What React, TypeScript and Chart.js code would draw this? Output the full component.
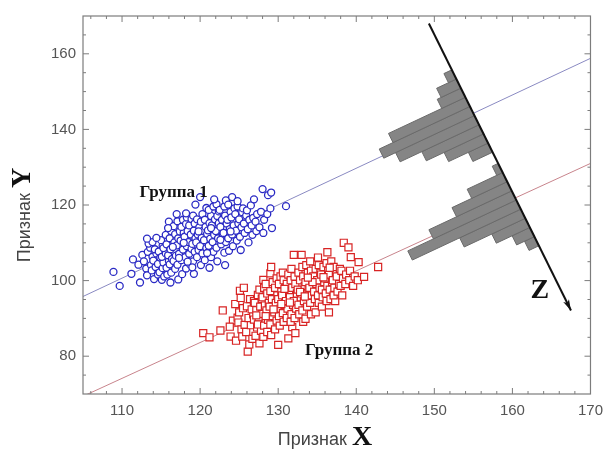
import React, { useEffect, useRef } from 'react';
import { Chart, registerables } from 'chart.js';

Chart.register(...registerables);

// ---------- data ----------
const xRange = [105, 170];
const yRange = [70, 170];
const xTickValues = [110, 120, 130, 140, 150, 160, 170];
const yTickValues = [80, 100, 120, 140, 160];
const xMinorStep = 2;
const yMinorStep = 5;

const group1: number[][] = [
  [108.9, 102.3], [109.7, 98.6], [111.2, 101.8], [111.4, 105.6], [112.3, 99.5], [112.1, 104.2], [112.6, 106.8],
  [113.1, 103.2], [112.8, 105.1], [113.3, 107.6], [113.6, 108.7], [113.2, 101.4],
  [113.7, 104.1], [113.9, 106.3], [113.4, 109.8], [113.8, 102.7],
  [114.1, 100.4], [114.3, 103.6], [114.0, 105.3], [114.4, 107.2], [114.2, 108.3], [113.9, 110.2], [114.6, 101.6],
  [114.8, 102.2], [114.6, 104.4], [114.9, 106.1], [114.7, 107.7], [115.2, 109.2],
  [115.1, 100.2], [115.4, 101.1], [115.2, 103.3], [115.3, 104.8], [115.1, 106.3], [115.6, 107.2], [115.3, 108.6], [115.0, 110.7],
  [115.8, 101.6], [115.7, 103.4], [116.0, 105.2], [115.9, 106.7], [115.7, 109.6], [115.6, 112.1],
  [116.2, 99.5], [116.3, 102.1], [116.1, 104.3], [116.4, 105.7], [116.2, 108.3], [116.1, 111.2], [116.3, 113.1], [116.0, 115.6],
  [116.8, 103.1], [116.6, 105.2], [116.9, 106.6], [116.7, 110.1], [116.8, 112.3], [116.6, 114.4],
  [117.2, 100.3], [117.1, 104.2], [117.3, 107.1], [117.0, 109.3], [117.2, 111.2], [117.4, 113.0], [117.1, 115.7],
  [117.7, 101.7], [117.6, 105.4], [117.8, 108.2], [117.5, 110.6], [117.9, 112.6], [117.6, 114.2], [117.8, 116.1],
  [118.2, 103.2], [118.1, 106.2], [118.3, 109.1], [118.0, 111.6], [118.4, 113.1], [118.2, 115.0], [118.3, 116.7],
  [118.7, 104.3], [118.6, 107.1], [118.9, 108.4], [118.5, 110.2], [118.8, 112.2], [118.6, 114.6], [118.9, 116.3],
  [119.2, 101.8], [119.1, 105.1], [119.3, 107.6], [119.0, 109.7], [119.4, 111.2], [119.2, 113.2], [119.3, 115.1], [119.1, 117.2],
  [119.6, 106.2], [119.8, 108.1], [119.5, 110.1], [119.7, 112.2], [119.9, 114.1], [119.6, 116.2], [119.4, 120.1],
  [120.1, 104.1], [120.3, 107.2], [120.0, 109.1], [120.2, 111.3], [120.4, 113.2], [120.1, 115.6], [120.3, 117.6], [120.0, 122.1],
  [120.6, 105.4], [120.8, 108.6], [120.5, 110.7], [120.9, 112.4], [120.7, 114.2], [120.6, 116.1], [120.8, 119.2],
  [121.2, 103.4], [121.4, 106.2], [121.1, 109.2], [121.3, 111.1], [121.0, 113.3], [121.2, 115.2], [121.4, 117.1], [121.1, 118.7],
  [121.7, 107.6], [121.6, 110.2], [121.8, 112.1], [121.5, 114.6], [121.9, 116.2], [121.7, 119.6],
  [122.2, 105.1], [122.1, 108.7], [122.3, 111.2], [122.0, 113.1], [122.4, 115.2], [122.2, 117.1], [122.1, 120.2], [122.4, 118.3],
  [122.7, 109.6], [122.9, 112.1], [122.6, 114.2], [122.8, 116.1], [122.5, 118.7],
  [123.2, 104.1], [123.1, 107.4], [123.3, 110.2], [123.0, 112.6], [123.4, 115.1], [123.2, 117.2], [123.1, 119.6], [123.3, 121.2],
  [123.7, 107.9], [123.6, 111.2], [123.8, 113.6], [123.5, 116.1], [123.9, 118.2], [123.6, 120.1],
  [124.2, 109.1], [124.1, 112.2], [124.3, 114.6], [124.0, 116.7], [124.4, 119.1], [124.1, 122.1],
  [124.7, 110.6], [124.6, 113.2], [124.9, 115.1], [124.5, 117.6], [124.8, 119.6],
  [125.2, 108.1], [125.1, 111.6], [125.3, 114.1], [125.0, 116.2], [125.4, 118.1],
  [125.7, 112.6], [125.6, 115.1], [125.9, 117.2], [125.5, 119.1],
  [126.2, 110.1], [126.1, 113.6], [126.3, 116.1], [126.0, 118.6],
  [126.7, 112.1], [126.6, 114.6], [126.5, 119.9], [126.8, 116.6],
  [127.2, 113.1], [127.1, 115.6], [127.3, 117.6],
  [127.6, 114.1], [127.8, 118.2],
  [128.0, 124.2], [128.2, 116.1], [128.1, 112.6],
  [128.6, 117.6], [128.7, 122.6],
  [129.2, 113.9], [129.1, 123.3], [129.0, 119.1],
  [131.0, 119.7],
  [116.5, 108.9], [117.3, 106.0], [118.4, 105.0], [119.0, 103.5], [117.9, 110.0], [119.8, 113.0],
  [121.4, 113.9], [122.6, 110.8], [120.9, 107.3], [123.9, 113.0], [118.2, 117.8], [115.9, 113.9],
  [114.4, 111.3], [124.8, 121.0], [126.9, 121.5], [121.8, 121.5], [117.0, 117.6], [113.2, 111.1],
];

const group2: number[][] = [
  [120.4, 86.1], [121.2, 85.0], [122.6, 86.8], [122.9, 92.1],
  [123.9, 85.2], [124.2, 89.4], [123.8, 87.8],
  [124.6, 84.1], [124.5, 93.8], [124.8, 90.2],
  [125.1, 97.3], [125.2, 95.4], [124.9, 88.9], [125.3, 87.1], [125.0, 91.6],
  [125.6, 98.1], [125.4, 85.2], [125.7, 88.3], [125.5, 92.7],
  [126.1, 81.2], [126.3, 83.1], [125.9, 86.4], [126.2, 90.1], [126.0, 93.2], [126.4, 95.1],
  [126.7, 84.6], [126.5, 88.2], [126.8, 91.1], [126.6, 92.4], [126.9, 94.6],
  [127.1, 85.4], [127.3, 87.6], [126.9, 89.7], [127.2, 92.2], [127.0, 94.1], [127.4, 96.2],
  [127.6, 83.4], [127.8, 86.7], [127.5, 90.2], [127.7, 93.1], [127.9, 95.2], [127.6, 97.6], [127.4, 88.4],
  [128.1, 85.1], [128.2, 88.1], [127.9, 91.2], [128.3, 93.4], [128.0, 95.6], [128.2, 98.1], [128.1, 100.2],
  [128.6, 86.4], [128.7, 89.6], [128.5, 92.1], [128.8, 94.1], [128.6, 96.6], [128.4, 99.1],
  [129.1, 85.6], [129.0, 88.4], [129.3, 90.6], [128.9, 93.1], [129.2, 95.1], [129.0, 97.2], [129.3, 99.6], [129.0, 101.9], [129.1, 103.6],
  [129.6, 87.1], [129.8, 89.4], [129.5, 91.6], [129.7, 94.1], [129.9, 96.1], [129.6, 98.1], [129.8, 100.6],
  [130.0, 83.0], [130.2, 88.1], [130.1, 90.6], [130.3, 92.6], [130.0, 95.1], [130.4, 97.1], [130.1, 99.1], [130.3, 101.1],
  [130.7, 89.1], [130.6, 91.4], [130.8, 93.6], [130.5, 96.1], [130.9, 98.1], [130.7, 100.1], [130.6, 102.1],
  [131.3, 84.7], [131.8, 87.7], [131.1, 90.1], [131.2, 92.6], [131.0, 94.6], [131.4, 97.1], [131.1, 99.1], [131.3, 101.6],
  [131.6, 89.1], [131.7, 91.1], [131.9, 93.6], [131.5, 95.6], [131.8, 98.1], [131.6, 100.1], [131.7, 103.1],
  [132.2, 86.1], [132.1, 90.1], [132.3, 92.6], [132.0, 94.6], [132.4, 96.6], [132.2, 99.1], [132.1, 101.1], [132.0, 106.8],
  [132.7, 91.1], [132.6, 93.6], [132.9, 95.6], [132.5, 97.6], [132.8, 100.1], [132.6, 102.1],
  [133.2, 89.1], [133.1, 92.1], [133.3, 94.6], [133.0, 96.6], [133.4, 98.6], [133.2, 101.1], [133.1, 103.6], [133.0, 106.8],
  [133.5, 89.9], [133.7, 93.1], [133.6, 95.6], [133.9, 97.6], [133.5, 99.6], [133.8, 102.1], [133.6, 104.1],
  [134.2, 91.1], [134.1, 94.1], [134.3, 96.1], [134.0, 98.1], [134.4, 100.1], [134.2, 102.6], [134.1, 105.1],
  [134.8, 91.6], [134.7, 95.1], [134.6, 97.1], [134.9, 99.1], [134.5, 101.1], [134.8, 103.1],
  [135.2, 94.1], [135.1, 96.1], [135.3, 98.1], [135.0, 100.1], [135.4, 102.1], [135.2, 104.1], [135.1, 106.1], [135.6, 93.1],
  [135.7, 95.6], [135.6, 97.6], [135.9, 99.6], [135.5, 101.6], [135.8, 103.6],
  [136.2, 94.6], [136.1, 96.6], [136.3, 98.6], [136.0, 100.6], [136.4, 102.6], [136.2, 104.6], [136.3, 107.5],
  [136.5, 91.6], [136.7, 95.1], [136.6, 97.6], [136.9, 99.6], [136.5, 101.6], [136.8, 105.1],
  [137.3, 94.6], [137.1, 96.1], [137.2, 98.1], [137.0, 100.1], [137.4, 102.1], [137.1, 103.6],
  [137.6, 97.1], [137.8, 99.1], [137.5, 101.1], [137.9, 103.1],
  [138.2, 96.1], [138.0, 98.6], [138.3, 100.6], [138.1, 102.6],
  [138.6, 99.1], [138.7, 101.6], [138.4, 110.0],
  [139.1, 100.1], [139.2, 102.6], [139.0, 108.8], [139.3, 106.2],
  [139.6, 98.6], [139.8, 101.1],
  [140.3, 104.9], [140.2, 100.1], [141.0, 101.0], [142.8, 103.6],
  [130.4, 93.8], [131.5, 94.2], [132.8, 97.0], [133.4, 95.8], [134.4, 99.6], [135.8, 100.9],
  [129.4, 92.4], [128.4, 90.6], [136.6, 103.4], [133.8, 100.8], [130.8, 97.8], [127.2, 90.8],
];

const line1: number[][] = [[105, 95.8], [170, 158.8]];
const line2: number[][] = [[105, 69.4], [170, 131]];

// Z axis (data coordinates of its start and arrow tip)
const zAxis: number[][] = [[149.3, 168], [167.5, 92.1]];

// histograms projected on Z: bin start (fraction along Z), bin width, counts
const hist1Start = 0.1614;
const hist2Start = 0.4874;
const histBinWidth = 0.0319;
const hist1Counts = [4, 10, 12, 39, 46, 40, 29, 20, 10];
const hist2Counts = [3, 18, 28, 42, 55, 31, 17, 9, 5];
const histUnit = 0.2526; // x-units of bar length per count

const labels = [
  { text: 'Группа 1', x: 116.6, y: 123.3, font: 'bold 17px "Liberation Serif", "Times New Roman", serif' },
  { text: 'Группа 2', x: 137.8, y: 81.6, font: 'bold 17px "Liberation Serif", "Times New Roman", serif' },
  { text: 'Z', x: 163.5, y: 97.4, font: 'bold 28px "Liberation Serif", "Times New Roman", serif' },
];

// ---------- helpers ----------
const lineSlope = (line1[1][1] - line1[0][1]) / (line1[1][0] - line1[0][0]);

function barPolygon(t0: number, t1: number, len: number) {
  const [ax, ay] = zAxis[0];
  const [bx, by] = zAxis[1];
  const p0x = ax + (bx - ax) * t0, p0y = ay + (by - ay) * t0;
  const p1x = ax + (bx - ax) * t1, p1y = ay + (by - ay) * t1;
  const dx = -len, dy = -len * lineSlope;
  return [
    { x: p0x, y: p0y }, { x: p1x, y: p1y },
    { x: p1x + dx, y: p1y + dy }, { x: p0x + dx, y: p0y + dy },
    { x: p0x, y: p0y },
  ];
}

function histDatasets(start: number, counts: number[]) {
  return counts.map((c, i) => ({
    type: 'line' as const,
    data: barPolygon(start + i * histBinWidth, start + (i + 1) * histBinWidth, c * histUnit),
    borderColor: '#6a6a6a',
    borderWidth: 1,
    backgroundColor: '#858585',
    fill: 'shape',
    pointRadius: 0,
    tension: 0,
    order: 3,
  }));
}

const toPts = (arr: number[][]) => arr.map(([x, y]) => ({ x, y }));

const decorPlugin = {
  id: 'decor',
  afterDraw(chart: any) {
    const { ctx, chartArea: ca, scales } = chart;
    const xs = scales.x, ys = scales.y;
    ctx.save();
    // frame
    ctx.strokeStyle = '#7c7c7c';
    ctx.lineWidth = 1.2;
    ctx.strokeRect(ca.left, ca.top, ca.right - ca.left, ca.bottom - ca.top);
    // frame ticks (inward)
    ctx.lineWidth = 1;
    ctx.beginPath();
    for (let v = Math.ceil(xRange[0] / xMinorStep) * xMinorStep; v < xRange[1]; v += xMinorStep) {
      const px = xs.getPixelForValue(v);
      const L = xTickValues.includes(v) ? 6 : 3;
      ctx.moveTo(px, ca.bottom); ctx.lineTo(px, ca.bottom - L);
      ctx.moveTo(px, ca.top); ctx.lineTo(px, ca.top + L);
    }
    for (let v = Math.ceil(yRange[0] / yMinorStep) * yMinorStep + yMinorStep; v < yRange[1]; v += yMinorStep) {
      const py = ys.getPixelForValue(v);
      const L = yTickValues.includes(v) ? 6 : 3;
      ctx.moveTo(ca.left, py); ctx.lineTo(ca.left + L, py);
      ctx.moveTo(ca.right, py); ctx.lineTo(ca.right - L, py);
    }
    ctx.stroke();

    // arrow head on Z
    const sx = xs.getPixelForValue(zAxis[0][0]), sy = ys.getPixelForValue(zAxis[0][1]);
    const tx = xs.getPixelForValue(zAxis[1][0]), ty = ys.getPixelForValue(zAxis[1][1]);
    const len = Math.hypot(tx - sx, ty - sy);
    const ux = (tx - sx) / len, uy = (ty - sy) / len;
    const hl = 11, hw = 3.2;
    ctx.fillStyle = '#111';
    ctx.beginPath();
    ctx.moveTo(tx, ty);
    ctx.lineTo(tx - ux * hl - uy * hw, ty - uy * hl + ux * hw);
    ctx.lineTo(tx - ux * hl * 0.75, ty - uy * hl * 0.75);
    ctx.lineTo(tx - ux * hl + uy * hw, ty - uy * hl - ux * hw);
    ctx.closePath();
    ctx.fill();

    // annotations
    ctx.fillStyle = '#111';
    ctx.textAlign = 'center';
    ctx.textBaseline = 'middle';
    labels.forEach((l) => {
      ctx.font = l.font;
      ctx.fillText(l.text, xs.getPixelForValue(l.x), ys.getPixelForValue(l.y));
    });

    // axis titles (mixed fonts)
    const drawTitle = (letter: string) => {
      const f1 = '18px "Liberation Sans", Arial, sans-serif';
      const f2 = 'bold 28px "Liberation Serif", "Times New Roman", serif';
      ctx.textAlign = 'left';
      ctx.textBaseline = 'alphabetic';
      ctx.font = f1;
      const w1 = ctx.measureText('Признак ').width;
      ctx.font = f2;
      const w2 = ctx.measureText(letter).width;
      const x0 = -(w1 + w2) / 2;
      ctx.font = f1;
      ctx.fillStyle = '#444';
      ctx.fillText('Признак ', x0, 0);
      ctx.font = f2;
      ctx.fillStyle = '#111';
      ctx.fillText(letter, x0 + w1, 0);
    };
    ctx.save();
    ctx.translate(325, 445);
    drawTitle('X');
    ctx.restore();
    ctx.save();
    ctx.translate(30, 215);
    ctx.rotate(-Math.PI / 2);
    drawTitle('Y');
    ctx.restore();

    ctx.restore();
  },
};

export default function App() {
  const canvasRef = useRef<HTMLCanvasElement | null>(null);

  useEffect(() => {
    if (!canvasRef.current) return;
    const tickFont = { family: '"Liberation Sans", Arial, sans-serif', size: 15 };
    const chart = new Chart(canvasRef.current, {
      type: 'scatter',
      data: {
        datasets: [
          {
            type: 'scatter',
            data: toPts(group2),
            pointStyle: 'rect',
            pointRadius: 5,
            borderWidth: 1.2,
            borderColor: '#d82424',
            backgroundColor: '#ffffff',
            order: 0,
          },
          {
            type: 'scatter',
            data: toPts(group1),
            pointStyle: 'circle',
            pointRadius: 3.5,
            borderWidth: 1.3,
            borderColor: '#2a2ac4',
            backgroundColor: '#ffffff',
            order: 1,
          },
          {
            type: 'line',
            data: toPts(zAxis),
            borderColor: '#111',
            borderWidth: 2,
            pointRadius: 0,
            fill: false,
            order: 2,
          },
          ...histDatasets(hist1Start, hist1Counts),
          ...histDatasets(hist2Start, hist2Counts),
          {
            type: 'line',
            data: toPts(line1),
            borderColor: '#8a8ac2',
            borderWidth: 1,
            pointRadius: 0,
            fill: false,
            order: 4,
          },
          {
            type: 'line',
            data: toPts(line2),
            borderColor: '#c8848c',
            borderWidth: 1,
            pointRadius: 0,
            fill: false,
            order: 4,
          },
        ] as any,
      },
      options: {
        animation: false,
        responsive: true,
        maintainAspectRatio: false,
        events: [],
        layout: { padding: { left: 0, right: 15, top: 14, bottom: 0 } },
        plugins: { legend: { display: false }, tooltip: { enabled: false } },
        scales: {
          x: {
            type: 'linear',
            position: 'bottom',
            min: xRange[0],
            max: xRange[1],
            grid: { display: false, drawTicks: false },
            border: { display: false },
            ticks: { font: tickFont, color: '#555', padding: 8 },
            afterBuildTicks: (s: any) => { s.ticks = xTickValues.map((v) => ({ value: v })); },
            afterFit: (s: any) => { s.height = 63; },
          },
          y: {
            type: 'linear',
            position: 'left',
            min: yRange[0],
            max: yRange[1],
            grid: { display: false, drawTicks: false },
            border: { display: false },
            ticks: { font: tickFont, color: '#555', padding: 7 },
            afterBuildTicks: (s: any) => { s.ticks = yTickValues.map((v) => ({ value: v })); },
            afterFit: (s: any) => { s.width = 83; },
          },
        },
      } as any,
      plugins: [decorPlugin],
    });
    return () => chart.destroy();
  }, []);

  return (
    <div style={{ position: 'fixed', left: 0, top: 0, width: 611, height: 457, background: '#fff' }}>
      <canvas ref={canvasRef} />
    </div>
  );
}
